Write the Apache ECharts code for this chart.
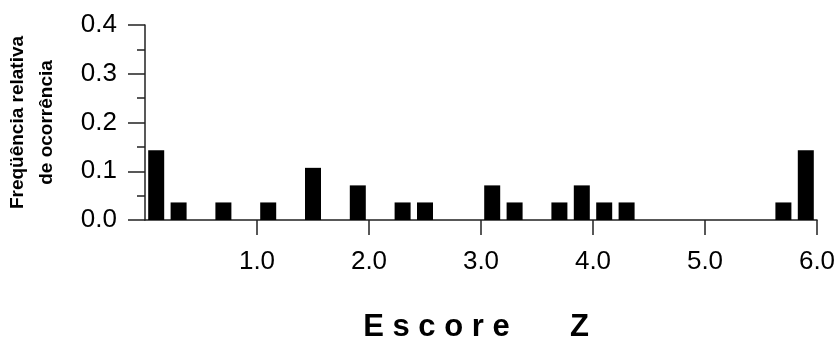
<!DOCTYPE html>
<html>
<head>
<meta charset="utf-8">
<script src="https://cdn.jsdelivr.net/npm/echarts@6/dist/echarts.min.js"></script>
<style>html,body{margin:0;padding:0;background:#fff}#c{width:840px;height:350px}</style>
</head>
<body>
<div id="c"></div>
<script>
const binCenters = [0.1, 0.3, 0.7, 1.1, 1.5, 1.9, 2.3, 2.5, 3.1, 3.3, 3.7, 3.9, 4.1, 4.3, 5.7, 5.9];
const frequencies = [0.143, 0.036, 0.036, 0.036, 0.107, 0.071, 0.036, 0.036, 0.071, 0.036, 0.036, 0.071, 0.036, 0.036, 0.036, 0.143];
const xTicks = [1, 2, 3, 4, 5, 6];
const xTitle = 'E s c o r e       Z';
const yTitle = 'Freqüência relativa\nde ocorrência';

const chart = echarts.init(document.getElementById('c'), null, {renderer: 'canvas'});
const axisColor = '#222';
chart.setOption({
  animation: false,
  backgroundColor: '#fff',
  grid: {left: 145, right: 23, top: 25, bottom: 130, containLabel: false, outerBoundsMode: 'none'},
  xAxis: {
    type: 'value', min: 0, max: 6, interval: 1,
    name: xTitle, nameLocation: 'middle', nameGap: 92,
    nameTextStyle: {fontFamily: 'Arial, Liberation Sans', fontSize: 31, fontWeight: 'bold', color: '#000', padding: [0, 10, 0, 0]},
    axisLine: {show: true, lineStyle: {color: axisColor, width: 1.5}},
    axisTick: {show: true, inside: false, length: 15, customValues: xTicks, lineStyle: {color: axisColor, width: 1.5}},
    axisLabel: {customValues: xTicks, margin: 29, fontFamily: 'Arial, Liberation Sans', fontSize: 26, color: '#000',
      formatter: v => v.toFixed(1)},
    splitLine: {show: false}
  },
  yAxis: {
    type: 'value', min: 0, max: 0.4, interval: 0.1,
    name: yTitle, nameLocation: 'middle', nameGap: 84, nameRotate: 90,
    nameTextStyle: {fontFamily: 'Arial, Liberation Sans', fontSize: 19, fontWeight: 'bold', color: '#000', lineHeight: 29},
    axisLine: {show: true, lineStyle: {color: axisColor, width: 1.5}},
    axisTick: {show: true, length: 17, lineStyle: {color: axisColor, width: 1.5}},
    minorTick: {show: true, splitNumber: 2, length: 8, lineStyle: {color: axisColor, width: 1.5}},
    axisLabel: {margin: 28, fontFamily: 'Arial, Liberation Sans', fontSize: 26, color: '#000',
      formatter: v => v.toFixed(1)},
    splitLine: {show: false}
  },
  series: [{
    type: 'bar',
    barWidth: 16,
    itemStyle: {color: '#000'},
    data: binCenters.map((x, i) => [x, frequencies[i]])
  }]
});
</script>
</body>
</html>
